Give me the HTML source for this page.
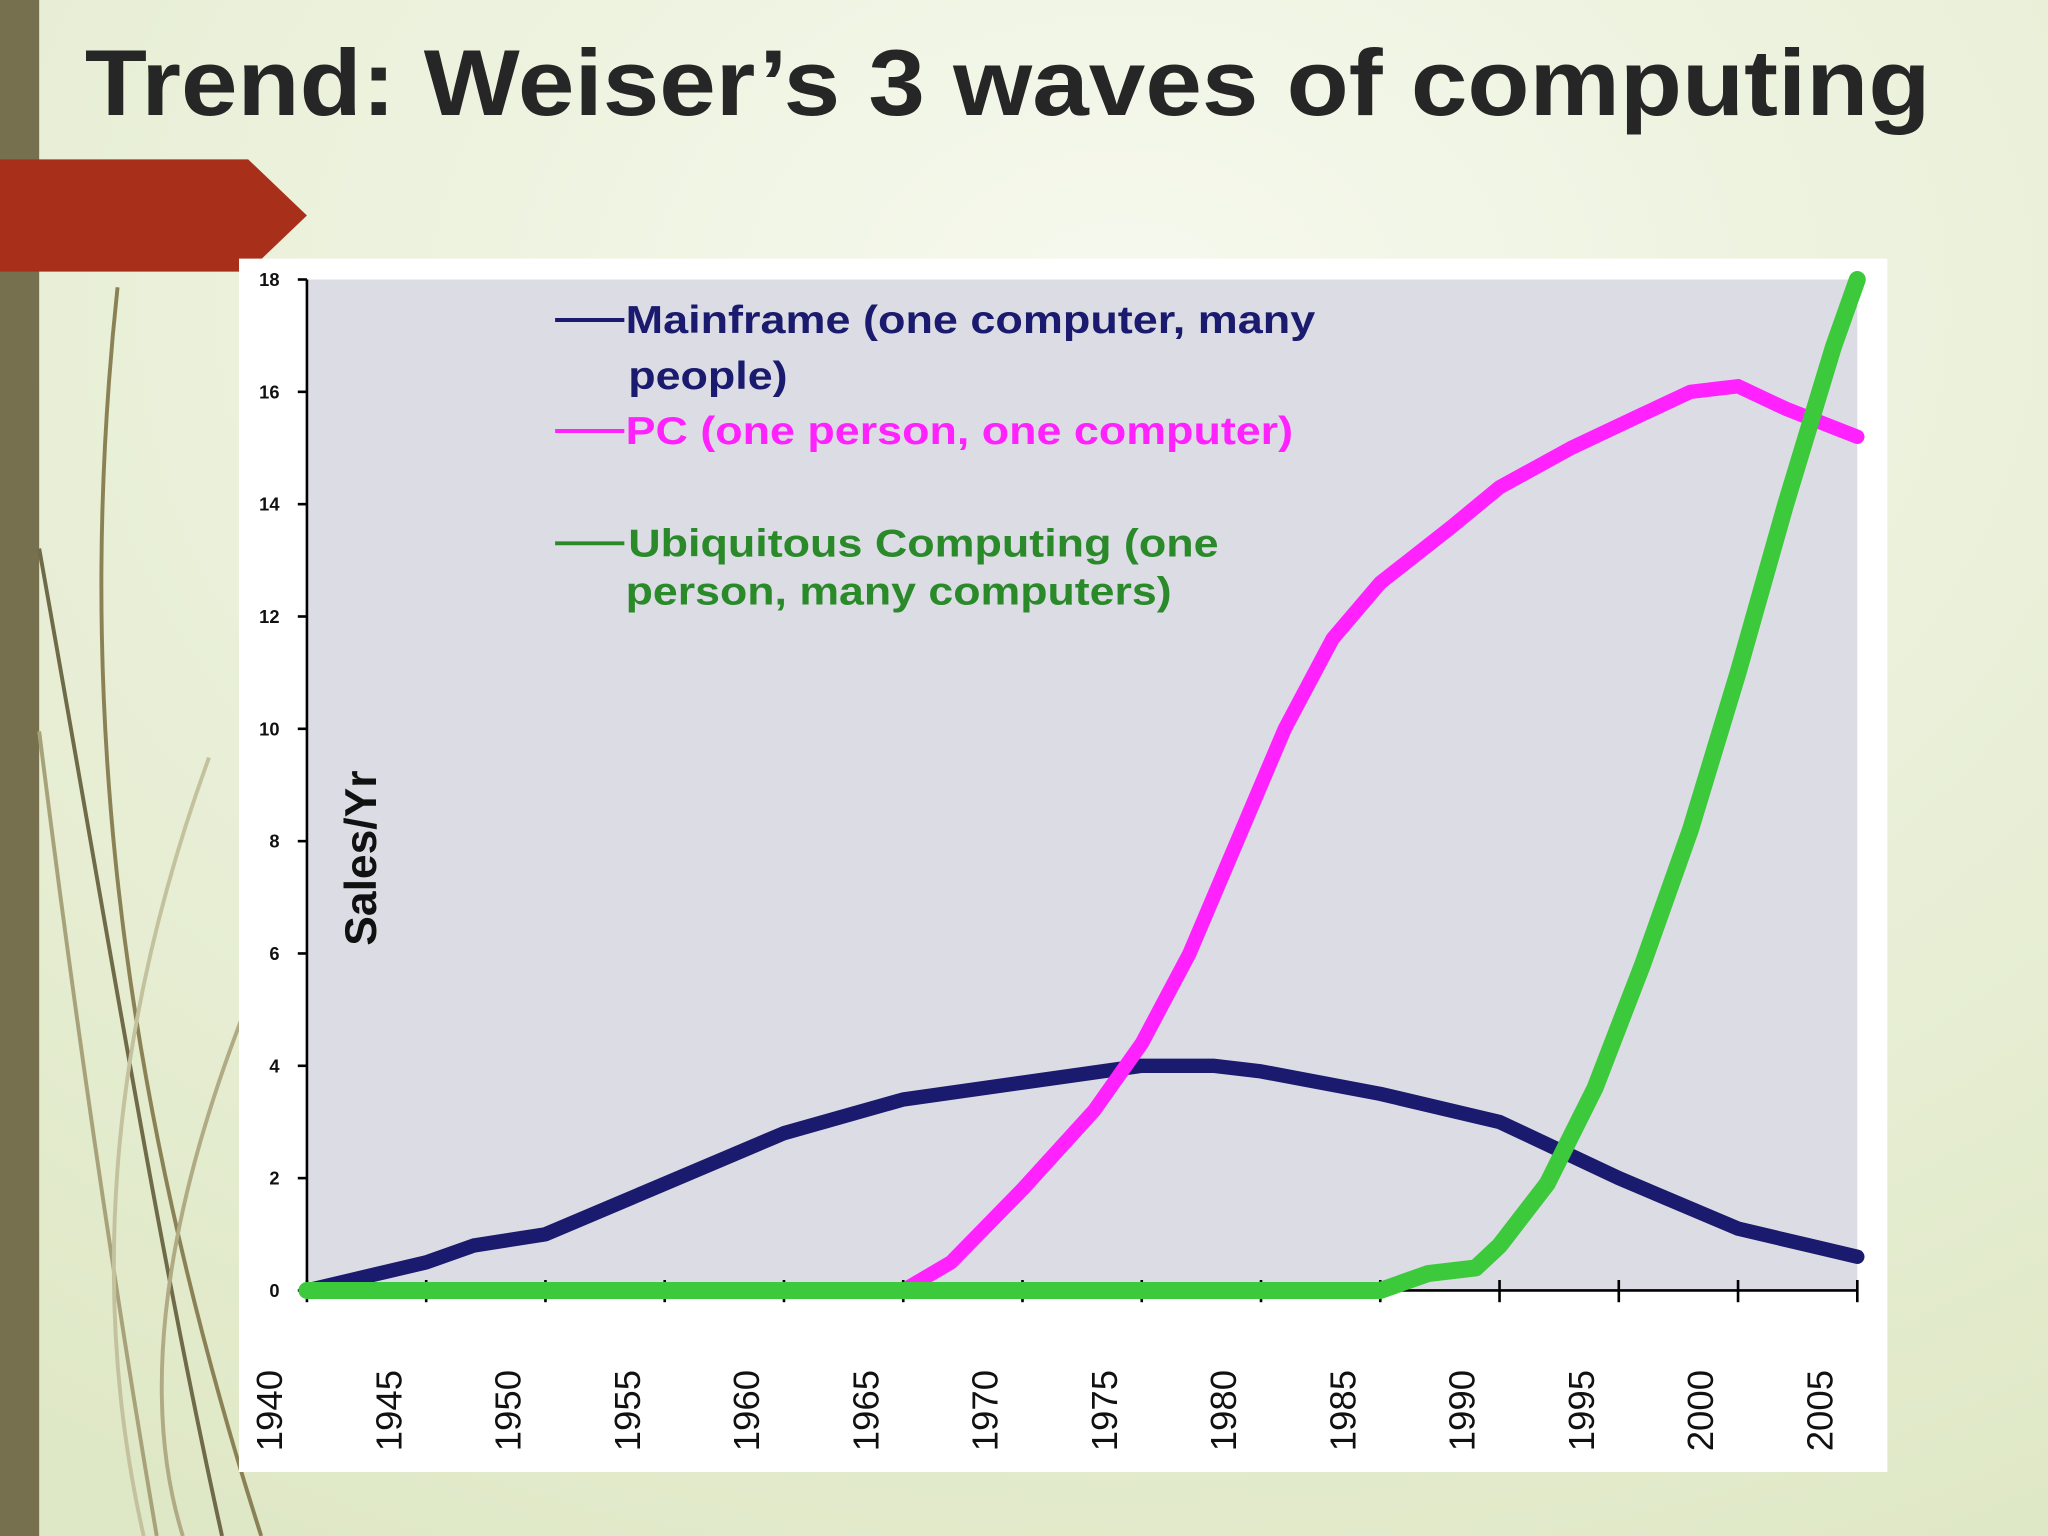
<!DOCTYPE html>
<html><head><meta charset="utf-8"><style>
html,body{margin:0;padding:0;width:2048px;height:1536px;overflow:hidden}
svg{display:block}
text{font-family:"Liberation Sans",sans-serif}
</style></head><body>
<svg id="s" width="2048" height="1536" viewBox="0 0 1568 1176">
<defs>
<radialGradient id="bg" cx="0.55" cy="0.2" r="0.9">
<stop offset="0" stop-color="#f6f9ee"/><stop offset="1" stop-color="#dfe8c6"/></radialGradient>
</defs>
<rect width="1568" height="1176" fill="url(#bg)"/>
<rect x="0" y="0" width="30" height="1176" fill="#77704f"/>
<g fill="none" stroke="#8a8256" stroke-width="3">
<path d="M90 220 C60 500 80 800 200 1176"/>
<path d="M30 420 C80 700 120 950 170 1176" stroke="#6f6a48"/>
<path d="M30 560 C60 800 90 1000 120 1176" stroke="#a7a27a"/>
<path d="M160 580 C80 800 70 1000 110 1176" stroke="#c4c29e"/>
<path d="M185 780 C120 950 110 1080 140 1176" stroke="#b0ab84"/>
</g>
<path d="M0 122 L190 122 L235 165 L190 208 L0 208 Z" fill="#a8301a"/>
<text x="65" y="88" font-size="72" font-weight="bold" fill="#262626" textLength="1413" lengthAdjust="spacingAndGlyphs">Trend: Weiser’s 3 waves of computing</text>
<rect x="183" y="198" width="1262" height="929" fill="#fff"/>
<rect x="235" y="214" width="1187" height="774" fill="#dcdce4"/>
<g id="axes"></g>
<g id="series"></g>
<text transform="translate(288,657) rotate(-90)" text-anchor="middle" font-size="34" font-weight="bold" fill="#111">Sales/Yr</text>
<g font-size="30" font-weight="bold">
<line x1="425" y1="245" x2="478" y2="245" stroke="#1a1a6e" stroke-width="3"/>
<text x="479" y="255" fill="#1a1a6e" textLength="528" lengthAdjust="spacingAndGlyphs">Mainframe (one computer, many</text>
<text x="481" y="298" fill="#1a1a6e" textLength="122" lengthAdjust="spacingAndGlyphs">people)</text>
<line x1="425" y1="330" x2="478" y2="330" stroke="#ff22ff" stroke-width="3"/>
<text x="479" y="340" fill="#ff22ff" textLength="511" lengthAdjust="spacingAndGlyphs">PC (one person, one computer)</text>
<line x1="425" y1="416" x2="478" y2="416" stroke="#2a8a2a" stroke-width="3"/>
<text x="481" y="426" fill="#2a8a2a" textLength="452" lengthAdjust="spacingAndGlyphs">Ubiquitous Computing (one</text>
<text x="479" y="463" fill="#2a8a2a" textLength="418" lengthAdjust="spacingAndGlyphs">person, many computers)</text>
</g>
</svg>
<script>
const yTicks=[0,2,4,6,8,10,12,14,16,18];
const xTicks=[1940,1945,1950,1955,1960,1965,1970,1975,1980,1985,1990,1995,2000,2005];
const mainYears=[1940,1942,1945,1947,1950,1955,1960,1965,1970,1975,1978,1980,1985,1990,1995,2000,2003,2005];
const mainVals=[0,0.2,0.5,0.8,1.0,1.9,2.8,3.4,3.7,4.0,4.0,3.9,3.5,3.0,2.0,1.1,0.8,0.6];
const pcYears=[1965,1967,1970,1973,1975,1977,1979,1981,1983,1985,1988,1990,1993,1996,1998,2000,2002,2005];
const pcVals=[0,0.5,1.8,3.2,4.4,6.0,8.0,10.0,11.6,12.6,13.6,14.3,15.0,15.6,16.0,16.1,15.7,15.2];
const ubiYears=[1940,1985,1987,1989,1990,1992,1994,1996,1998,2000,2002,2004,2005];
const ubiVals=[0,0,0.3,0.4,0.8,1.9,3.6,5.8,8.2,11.0,14.0,16.8,18];
const NS="http://www.w3.org/2000/svg";
const X=v=>235+(v-1940)/(2005-1940)*1187;
const Y=v=>988-v/18*774;
const ax=document.getElementById('axes'),se=document.getElementById('series');
function mk(tag,attrs,parent){const e=document.createElementNS(NS,tag);for(const k in attrs)e.setAttribute(k,attrs[k]);parent.appendChild(e);return e;}
let l=mk('line',{x1:235,y1:214,x2:235,y2:990,stroke:'#000','stroke-width':2},ax);


l=mk('line',{x1:235,y1:988,x2:1422,y2:988,stroke:'#000','stroke-width':2},ax);


yTicks.forEach(v=>{
 const t=mk('line',{x1:228,y1:Y(v),x2:235,y2:Y(v),stroke:'#000','stroke-width':2},ax);
 
 
 const tx=mk('text',{x:214,y:Y(v)+5,'text-anchor':'end','font-size':14,'font-weight':'bold',fill:'#111'},ax);
 tx.textContent=v;
 
 
});
xTicks.forEach(v=>{
 const t=mk('line',{x1:X(v),y1:980,x2:X(v),y2:997,stroke:'#000','stroke-width':2},ax);
 
 
 const tx=mk('text',{transform:`translate(${X(v)-19},1080) rotate(-90)`,'text-anchor':'middle','font-size':28,fill:'#111'},ax);
 tx.textContent=v;
 
 
});
function line(years,vals,color,w,name){
 const d=years.map((y,i)=>(i?'L':'M')+X(y).toFixed(1)+' '+Y(vals[i]).toFixed(1)).join(' ');
 const p=mk('path',{d:d,fill:'none',stroke:color,'stroke-width':w,'stroke-linejoin':'round','stroke-linecap':'round'},se);
 
 
}
line(mainYears,mainVals,'#1a1a6e',11,'mainframe-line');
line(pcYears,pcVals,'#ff22ff',11,'pc-line');
line(ubiYears,ubiVals,'#3cc93c',13,'ubicomp-line');
</script>
</body></html>
